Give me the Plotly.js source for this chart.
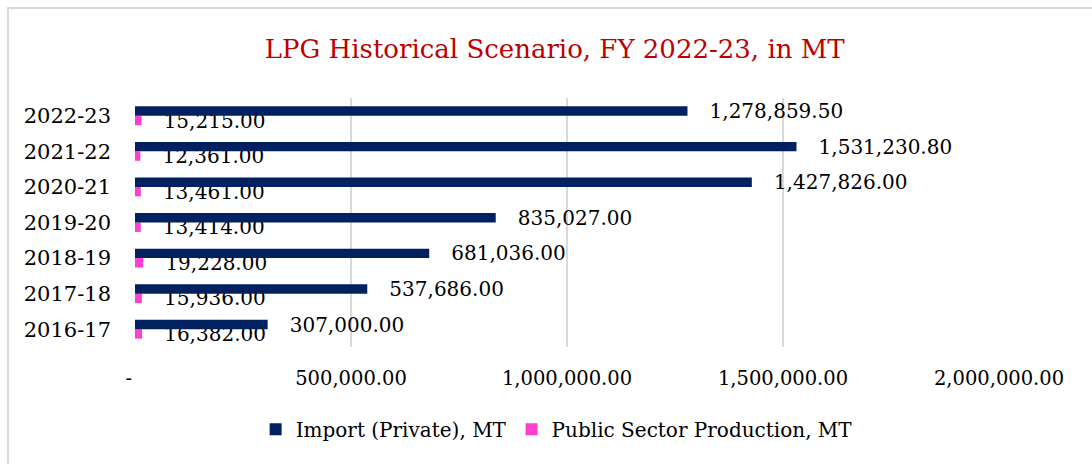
<!DOCTYPE html>
<html>
<head>
<meta charset="utf-8">
<script src="https://cdn.plot.ly/plotly-3.0.1.min.js"></script>
<style>
  html, body { margin: 0; padding: 0; background: #fff; }
  #frame { position: absolute; left: 7px; top: 7px; width: 1100px; height: 470px; border-left: 2px solid #d9d9d9; border-top: 2px solid #d9d9d9; }
  #chart { position: absolute; left: 0; top: 0; width: 1092px; height: 464px; }
</style>
</head>
<body>
<div id="frame"></div>
<div id="chart"></div>
<script>
const categories = ['2016-17', '2017-18', '2018-19', '2019-20', '2020-21', '2021-22', '2022-23'];
const importPrivate = [307000.00, 537686.00, 681036.00, 835027.00, 1427826.00, 1531230.80, 1278859.50];
const publicSector = [16382.00, 15936.00, 19228.00, 13414.00, 13461.00, 12361.00, 15215.00];
const tickValues = [0, 500000, 1000000, 1500000, 2000000];
const tickLabels = ['-\u00a0\u00a0', '500,000.00', '1,000,000.00', '1,500,000.00', '2,000,000.00'];

const FONT = 'DejaVu Serif, Liberation Serif, serif';
const pad = '\u00a0\u00a0\u00a0';

const traces = [
  {
    type: 'bar', orientation: 'h', name: 'Public Sector Production, MT',
    y: categories, x: publicSector,
    marker: { color: '#FF3FD2' },
    texttemplate: pad + '%{x:,.2f}', textposition: 'outside',
    textfont: { family: FONT, size: 20, color: '#000' },
    constraintext: 'none', cliponaxis: false, hoverinfo: 'x+name'
  },
  {
    type: 'bar', orientation: 'h', name: 'Import (Private), MT',
    y: categories, x: importPrivate,
    marker: { color: '#002060' },
    texttemplate: pad + '%{x:,.2f}', textposition: 'outside',
    textfont: { family: FONT, size: 20, color: '#000' },
    constraintext: 'none', cliponaxis: false, hoverinfo: 'x+name'
  }
];

const layout = {
  width: 1092, height: 464,
  paper_bgcolor: 'rgba(0,0,0,0)', plot_bgcolor: 'rgba(0,0,0,0)',
  margin: { l: 135, r: 93, t: 98, b: 117 },
  font: { family: FONT, size: 20, color: '#000' },
  title: {
    text: 'LPG Historical Scenario, FY 2022-23, in MT',
    font: { family: FONT, size: 26, color: '#C00000' },
    x: 0.508, xanchor: 'center', xref: 'container',
    y: 0.895, yanchor: 'middle', yref: 'container'
  },
  barmode: 'group', bargap: 0.47, bargroupgap: 0,
  xaxis: {
    range: [0, 2000000], tickvals: tickValues, ticktext: tickLabels,
    showgrid: true, gridcolor: '#d9d9d9', gridwidth: 1.5,
    zeroline: false, showline: false, ticks: '',
    tickfont: { family: FONT, size: 19.5, color: '#000' },
    ticklabelstandoff: 17
  },
  yaxis: {
    type: 'category', showgrid: false, zeroline: false, showline: false,
    ticks: '', ticklabelstandoff: 23,
    tickfont: { family: FONT, size: 21, color: '#000' }
  },
  showlegend: true,
  legend: {
    orientation: 'h', traceorder: 'reversed',
    x: 0.488, xanchor: 'center', y: -0.33, yanchor: 'middle',
    font: { family: FONT, size: 20, color: '#000' },
    itemwidth: 30
  }
};

Plotly.newPlot('chart', traces, layout, { displayModeBar: false, staticPlot: true });
</script>
</body>
</html>
